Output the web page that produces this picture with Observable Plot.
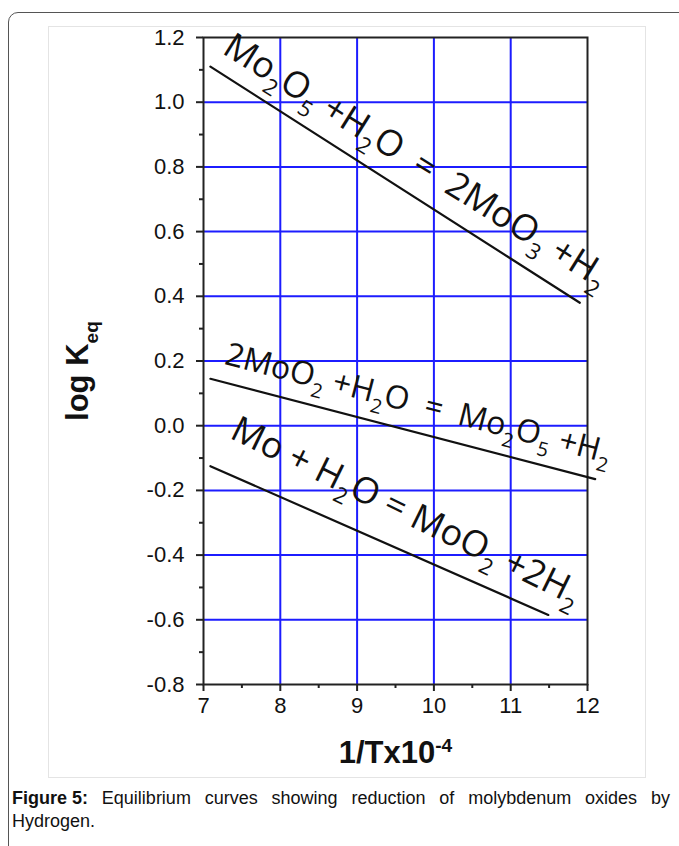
<!DOCTYPE html>
<html>
<head>
<meta charset="utf-8">
<script src="https://cdn.jsdelivr.net/npm/d3@7"></script>
<script src="https://cdn.jsdelivr.net/npm/@observablehq/plot@0.6"></script>
<style>
  html, body { margin: 0; padding: 0; background: #fff; overflow: hidden; }
  #wrap { position: relative; width: 679px; height: 846px; overflow: hidden; }
  #outer { position: absolute; left: 8px; top: 12px; width: 700px; height: 860px;
           border: 1px solid #555; border-radius: 10px; box-sizing: border-box; }
  #imgbox { position: absolute; left: 48px; top: 26px; width: 598px; height: 752px;
            border: 1px solid #e4e4e4; box-sizing: border-box; }
  #chart { position: absolute; left: 0; top: 0; }
  #caption { position: absolute; left: 12px; top: 787px; width: 658px;
             font-family: "Liberation Sans", Arial, sans-serif; font-size: 18px;
             line-height: 23px; color: #111; }
  #caption .l1 { white-space: nowrap; display: flex; justify-content: space-between; }
  .tk text { font-size: 22px; }
</style>
</head>
<body>
<div id="wrap">
  <div id="outer"></div>
  <div id="imgbox"></div>
  <div id="chart"></div>
  <div id="caption"></div>
</div>
<script>
// ---- data ----
const xTicks = [7, 8, 9, 10, 11, 12];
const xMinorTicks = [7.5, 8.5, 9.5, 10.5, 11.5];
const yTicks = [-0.8, -0.6, -0.4, -0.2, 0.0, 0.2, 0.4, 0.6, 0.8, 1.0, 1.2];
const yMinorTicks = [-0.7, -0.5, -0.3, -0.1, 0.1, 0.3, 0.5, 0.7, 0.9, 1.1];
const gridX = [8, 9, 10, 11];
const gridY = [-0.6, -0.4, -0.2, 0.0, 0.2, 0.4, 0.6, 0.8, 1.0];

const seriesNames = ["Mo2O5", "MoO2", "Mo"];
const mo2o5X = [7.09, 11.9];
const mo2o5Y = [1.11, 0.38];
const moo2X = [7.09, 12.1];
const moo2Y = [0.145, -0.165];
const moX = [7.09, 11.49];
const moY = [-0.125, -0.585];

const labelText = [
  "Mo_{2}O_{5} +H_{2}O\u2002=\u20022MoO_{3} +H_{2}",
  "2MoO_{2} +H_{2}O\u00a0\u00a0=\u00a0\u00a0Mo_{2}O_{5} +H_{2}",
  "Mo + H_{2}O = MoO_{2} +2H_{2}"
];
const labelX = [9.77, 9.8, 9.64];
const labelY = [0.818, 0.068, -0.265];
const labelAngle = [32, 14.5, 26];
const labelSize = [36, 32, 36];

const yLabel = "log K_{eq}";
const xLabel = "1/Tx10^{-4}";
const captionBold = "Figure 5:";
const captionWords = "Equilibrium curves showing reduction of molybdenum oxides by";
const captionLast = "Hydrogen.";

// ---- build table ----
const rows = [];
[[mo2o5X, mo2o5Y], [moo2X, moo2Y], [moX, moY]].forEach(([xs, ys], k) => {
  xs.forEach((x, i) => rows.push({series: seriesNames[k], x, y: ys[i]}));
});
const labels = labelText.map((t, i) => ({t, x: labelX[i], y: labelY[i], a: labelAngle[i], s: labelSize[i]}));

const blue = "#1c1cff";
const chart = Plot.plot({
  width: 679,
  height: 780,
  marginLeft: 203,
  marginRight: 92,
  marginTop: 37,
  marginBottom: 96,
  style: {fontFamily: "'Liberation Sans', Arial, sans-serif", background: "transparent", color: "#111"},
  x: {domain: [7, 12], label: null},
  y: {domain: [-0.8, 1.2], label: null},
  marks: [
    Plot.gridX(gridX, {stroke: blue, strokeOpacity: 1, strokeWidth: 2}),
    Plot.gridY(gridY, {stroke: blue, strokeOpacity: 1, strokeWidth: 2}),
    Plot.frame({stroke: "#222", strokeWidth: 2}),
    Plot.axisY(yMinorTicks, {tickSize: 4, strokeWidth: 2, tickFormat: () => "", stroke: "#222"}),
    Plot.axisY(yTicks, {tickSize: 7, strokeWidth: 2, stroke: "#222", tickPadding: 12, fontSize: 22, className: "tk", tickFormat: d => d.toFixed(1)}),
    Plot.axisX(xMinorTicks, {tickSize: 4, strokeWidth: 2, tickFormat: () => "", stroke: "#222"}),
    Plot.axisX(xTicks, {tickSize: 7, strokeWidth: 2, stroke: "#222", tickPadding: 6, fontSize: 22, className: "tk", tickFormat: d => String(d)}),
    Plot.line(rows, {x: "x", y: "y", z: "series", stroke: "#111", strokeWidth: 2.2}),
    Plot.text(labels, {x: "x", y: "y", text: "t", rotate: "a", fontSize: "s",
      fontFamily: "'Open Sans', sans-serif", fill: "#111", textAnchor: "middle", lineAnchor: "middle", className: "rich"}),
    Plot.text([yLabel], {frameAnchor: "left", dx: -125, dy: 10, rotate: -90, fontSize: 31, fontWeight: "bold",
      fill: "#111", textAnchor: "middle", lineAnchor: "middle", className: "rich"}),
    Plot.text([xLabel], {frameAnchor: "bottom", dy: 69, fontSize: 31, fontWeight: "bold",
      fill: "#111", textAnchor: "middle", lineAnchor: "middle", className: "rich"})
  ]
});
document.getElementById("chart").appendChild(chart);

// caption: first line justified word by word, second line plain
const cap = document.getElementById("caption");
const l1 = document.createElement("div");
l1.className = "l1";
const b = document.createElement("b");
b.textContent = captionBold;
l1.appendChild(b);
captionWords.split(" ").forEach(w => {
  const s = document.createElement("span");
  s.textContent = w;
  l1.appendChild(s);
});
cap.appendChild(l1);
const l2 = document.createElement("div");
l2.textContent = captionLast;
cap.appendChild(l2);

// turn _{..} / ^{..} markup into subscript / superscript tspans
const NS = "http://www.w3.org/2000/svg";
chart.querySelectorAll(".rich text").forEach(el => {
  const src = el.textContent;
  const F = parseFloat(getComputedStyle(el).fontSize) || 20;
  el.textContent = "";
  const re = /([_^])\{([^}]*)\}|([^_^]+)/g;
  let m, offset = 0;
  while ((m = re.exec(src))) {
    const ts = document.createElementNS(NS, "tspan");
    let shift = 0;
    if (m[1] === "_") {
      shift = 0.3 * F;
      ts.setAttribute("font-size", (0.62 * F).toFixed(1));
      ts.textContent = m[2];
    } else if (m[1] === "^") {
      shift = -0.38 * F;
      ts.setAttribute("font-size", (0.62 * F).toFixed(1));
      ts.textContent = m[2];
    } else {
      ts.textContent = m[3];
    }
    const d = shift - offset;
    if (d !== 0) ts.setAttribute("dy", d.toFixed(1));
    offset = shift;
    el.appendChild(ts);
  }
});
</script>
</body>
</html>
